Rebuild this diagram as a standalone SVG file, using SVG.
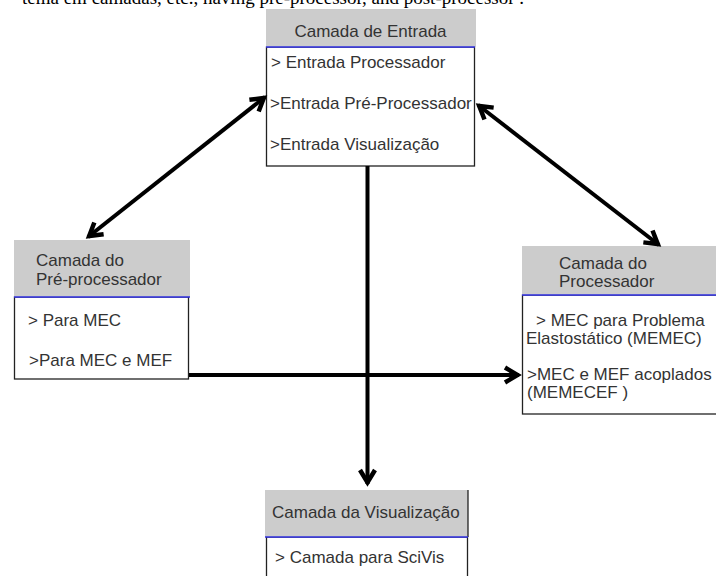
<svg xmlns="http://www.w3.org/2000/svg" width="716" height="576" viewBox="0 0 716 576">
<style>
.hdr{fill:#cccccc}
.body{fill:#ffffff;stroke:#222;stroke-width:1.3}
.blue{stroke:#2f2fe0;stroke-width:1.5}
.t{font-family:"Liberation Sans",Arial,sans-serif;font-size:17px;fill:#333}
.c{stroke:#000;stroke-width:4;fill:none}
.top{font-family:"Liberation Serif","Times New Roman",serif;font-size:19px;fill:#000}
</style>
<defs>
<marker id="ah" viewBox="-20 -12 24 24" refX="0" refY="0" markerWidth="24" markerHeight="24" markerUnits="userSpaceOnUse" orient="auto-start-reverse">
<path d="M-14,-7.5 L-1.5,0 L-14,7.5" fill="none" stroke="#000" stroke-width="4.5" stroke-linejoin="miter"/>
</marker>
</defs>
<rect width="716" height="576" fill="#fff"/>
<text class="top" x="22" y="4">tema em camadas, etc., having pre-processor, and post-processor .</text>

<g id="entrada">
<rect class="body" x="266.5" y="47" width="208" height="119"/>
<rect class="hdr" x="266" y="9" width="210" height="38"/>
<line class="blue" x1="266" y1="47" x2="475" y2="47"/>
<text class="t" x="370.5" y="37" text-anchor="middle">Camada de Entrada</text>
<text class="t" x="271" y="68">&gt; Entrada Processador</text>
<text class="t" x="270" y="109">&gt;Entrada Pré-Processador</text>
<text class="t" x="270" y="150">&gt;Entrada Visualização</text>
</g>

<g id="preprocessador">
<rect class="body" x="14.5" y="297" width="174" height="82"/>
<rect class="hdr" x="14" y="240" width="176" height="57"/>
<line class="blue" x1="14" y1="297" x2="190" y2="297"/>
<text class="t" x="36" y="266">Camada do</text>
<text class="t" x="36" y="285">Pré-processador</text>
<text class="t" x="28" y="326">&gt; Para MEC</text>
<text class="t" x="29" y="366">&gt;Para MEC e MEF</text>
</g>

<g id="processador">
<rect class="body" x="522.5" y="295" width="200" height="119"/>
<rect class="hdr" x="522" y="246" width="200" height="49"/>
<line class="blue" x1="522" y1="295" x2="716" y2="295"/>
<text class="t" x="559" y="269">Camada do</text>
<text class="t" x="559" y="287">Processador</text>
<text class="t" x="536" y="326">&gt; MEC para Problema</text>
<text class="t" x="526" y="344">Elastostático (MEMEC)</text>
<text class="t" x="527" y="380">&gt;MEC e MEF acoplados</text>
<text class="t" x="527" y="398">(MEMECEF )</text>
</g>

<g id="visualizacao">
<rect class="body" x="266.5" y="537" width="201" height="50"/>
<rect class="hdr" x="265" y="490" width="203" height="47"/>
<line x1="468" y1="490" x2="468" y2="537" stroke="#222" stroke-width="1.3"/>
<line class="blue" x1="265" y1="537" x2="468" y2="537"/>
<text class="t" x="272" y="518">Camada da Visualização</text>
<text class="t" x="275" y="563">&gt; Camada para SciVis</text>
</g>

<g id="connectors">
<line class="c" x1="265" y1="97" x2="88" y2="237" marker-start="url(#ah)" marker-end="url(#ah)"/>
<line class="c" x1="478" y1="105" x2="659" y2="245" marker-start="url(#ah)" marker-end="url(#ah)"/>
<line class="c" x1="367.5" y1="166" x2="367.5" y2="484" marker-end="url(#ah)"/>
<line class="c" x1="189" y1="375" x2="519" y2="375" marker-end="url(#ah)"/>
</g>
</svg>
